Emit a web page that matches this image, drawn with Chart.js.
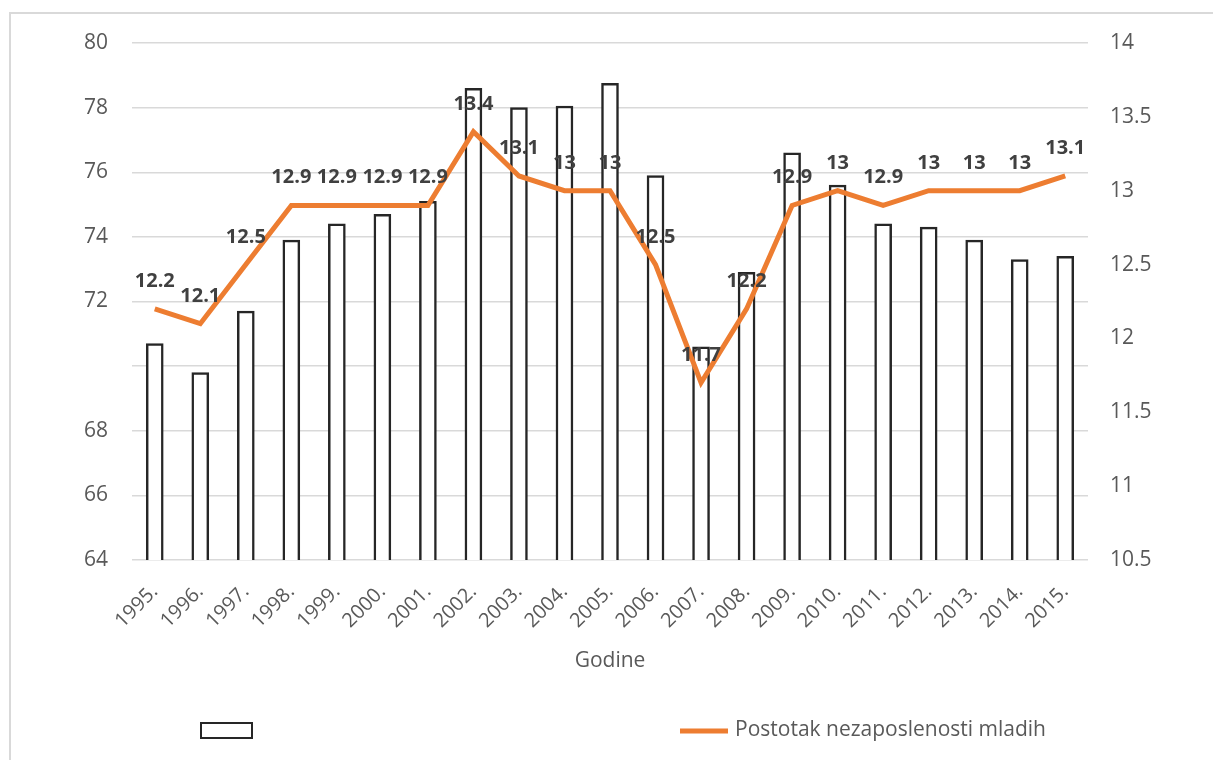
<!DOCTYPE html>
<html>
<head>
<meta charset="utf-8">
<script src="https://cdn.jsdelivr.net/npm/chart.js@4.4.1/dist/chart.umd.min.js"></script>
<style>
    body { margin: 0; background: #fff; overflow: hidden; }
    #frame { position: absolute; left: 9px; top: 12px; width: 1300px; height: 900px; border: 2px solid #d9d9d9; }
    #chartMain { position: absolute; left: 0; top: 0; }
</style>
</head>
<body>
<div id="frame"></div>
<canvas id="chartMain" width="1213" height="760"></canvas>
<script>
// godine
let years = ['1995.', '1996.', '1997.', '1998.', '1999.', '2000.', '2001.', '2002.', '2003.', '2004.', '2005.',
    '2006.', '2007.', '2008.', '2009.', '2010.', '2011.', '2012.', '2013.', '2014.', '2015.'];

// stupci (lijeva os)
let barValues = [70.7, 69.8, 71.7, 73.9, 74.4, 74.7, 75.1, 78.6, 78.0, 78.05, 78.75,
    75.9, 70.6, 72.9, 76.6, 75.6, 74.4, 74.3, 73.9, 73.3, 73.4];

// postotak nezaposlenosti mladih (desna os)
let lineValues = [12.2, 12.1, 12.5, 12.9, 12.9, 12.9, 12.9, 13.4, 13.1, 13, 13,
    12.5, 11.7, 12.2, 12.9, 13, 12.9, 13, 13, 13, 13.1];

let lineLabel = 'Postotak nezaposlenosti mladih';
let axisTitle = 'Godine';

const grey = '#595959';
const orange = '#ED7D31';

Chart.defaults.font.family = "'Open Sans', sans-serif";

// vrijednosti iznad linije
const valueLabels = {
    id: 'valueLabels',
    afterDatasetsDraw(chart) {
        let ctx = chart.ctx;
        let meta = chart.getDatasetMeta(0);
        ctx.save();
        ctx.font = "bold 20px 'Open Sans', sans-serif";
        ctx.fillStyle = '#404040';
        ctx.textAlign = 'center';
        ctx.textBaseline = 'alphabetic';
        meta.data.forEach((pt, i) => {
            ctx.fillText(String(chart.data.datasets[0].data[i]), pt.x, pt.y - 22);
        });
        ctx.restore();
    }
};

// legenda na dnu
const bottomLegend = {
    id: 'bottomLegend',
    afterDraw(chart) {
        let ctx = chart.ctx;
        let bars = chart.data.datasets[1];
        let line = chart.data.datasets[0];
        ctx.save();
        ctx.fillStyle = bars.backgroundColor;
        ctx.strokeStyle = bars.borderColor;
        ctx.lineWidth = 2;
        ctx.fillRect(201, 723, 51, 15);
        ctx.strokeRect(201, 723, 51, 15);

        ctx.strokeStyle = line.borderColor;
        ctx.lineWidth = 5;
        ctx.beginPath();
        ctx.moveTo(680, 731);
        ctx.lineTo(728, 731);
        ctx.stroke();

        ctx.fillStyle = grey;
        ctx.font = "21px 'Open Sans', sans-serif";
        ctx.textBaseline = 'middle';
        ctx.fillText(line.label, 735, 730);
        ctx.restore();
    }
};

let ctx = document.getElementById('chartMain');
let mainChart = new Chart(ctx, {
    type: 'bar',
    data: {
        labels: years,
        datasets: [{
            type: 'line',
            label: lineLabel,
            data: lineValues,
            yAxisID: 'y1',
            borderColor: orange,
            backgroundColor: orange,
            borderWidth: 5,
            pointRadius: 0,
            tension: 0,
            order: 0
        }, {
            type: 'bar',
            label: '',
            data: barValues,
            yAxisID: 'y',
            backgroundColor: '#ffffff',
            borderColor: '#262626',
            borderWidth: 2.5,
            barThickness: 17,
            order: 1
        }]
    },
    options: {
        responsive: false,
        animation: false,
        layout: { padding: { top: 43, bottom: 85, left: 0, right: 0 } },
        plugins: {
            legend: { display: false },
            tooltip: { enabled: false }
        },
        scales: {
            x: {
                grid: { display: false },
                border: { display: false },
                ticks: {
                    autoSkip: false,
                    minRotation: 45,
                    maxRotation: 45,
                    padding: 12,
                    color: grey,
                    font: { size: 20 }
                },
                title: {
                    display: true,
                    text: axisTitle,
                    color: grey,
                    font: { size: 21 },
                    padding: { top: 4, bottom: 1 }
                },
                afterFit: (scale) => { scale.height = 115; }
            },
            y: {
                position: 'left',
                min: 64,
                max: 80,
                grid: { color: '#d9d9d9', lineWidth: 1.5, drawTicks: false },
                border: { display: false },
                ticks: {
                    stepSize: 2,
                    padding: 24,
                    color: grey,
                    font: { size: 21 },
                    callback: (v) => (v === 70 ? '' : v)
                },
                afterFit: (scale) => { scale.width = 132; }
            },
            y1: {
                position: 'right',
                min: 10.5,
                max: 14,
                grid: { display: false, drawTicks: false },
                border: { display: false },
                ticks: {
                    stepSize: 0.5,
                    padding: 22,
                    color: grey,
                    font: { size: 21 },
                    callback: (v) => String(v)
                },
                afterFit: (scale) => { scale.width = 125; }
            }
        }
    },
    plugins: [valueLabels, bottomLegend]
});
</script>
</body>
</html>
